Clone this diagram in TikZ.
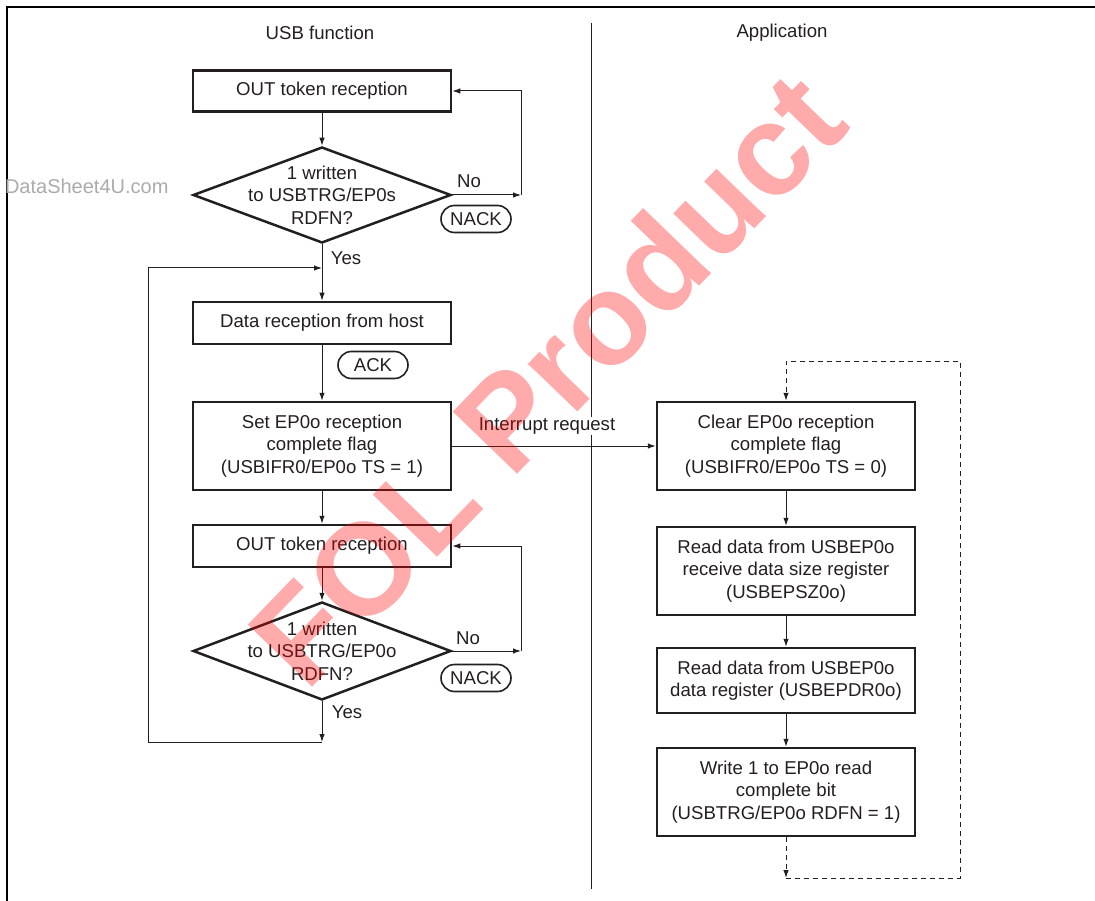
\documentclass[tikz,border=0pt]{standalone}
\usepackage{fontspec}
\setmainfont{Liberation Sans}
\usetikzlibrary{arrows.meta,shapes.geometric,shapes.misc}
\definecolor{ink}{HTML}{231F20}
\begin{document}
\begin{tikzpicture}[x=1pt,y=-1pt,
  every node/.style={font=\fontsize{18.6}{22.5}\selectfont, text=ink},
  box/.style={draw=ink, line width=2.5pt, minimum width=258pt, inner sep=0pt, align=center},
  dia/.style={draw=ink, line width=2.5pt, diamond, minimum width=258pt, inner sep=0pt},
  pill/.style={draw=ink, line width=1.6pt, rounded rectangle, minimum width=70pt, minimum height=27pt, inner sep=0pt},
  conn/.style={draw=ink, line width=1pt},
  arr/.style={conn, -{Latex[length=8pt,width=5.5pt]}},
  dashconn/.style={dash pattern=on 5pt off 4pt}
]
\useasboundingbox (0,0) rectangle (1095,901);
% frame
\draw[line width=2.6pt] (7,905) -- (7,7) -- (1100,7);
% watermark (gray)
\node[anchor=east, text=black!33, font=\fontsize{20}{20}\selectfont] (ds) at (172,186) {DataSheet4U.com};
% titles and divider
\node (t1) at (320,33) {USB function};
\node (t2) at (782,33) {Application};
\coordinate (dv1) at (591,23);
\coordinate (dv2) at (591,889);
\draw[conn] (dv1) -- (dv2);

% left column
\node[box, minimum height=41pt] (b1) at (322,91) {OUT token reception};
\node[dia, minimum height=96pt] (d1) at (322,195) {};
\node[align=center] (d1t) at (322,195) {1 written\\to USBTRG/EP0s\\RDFN?};
\node (no1) at (469,181) {No};
\node[pill] (nack1) at (476,219) {NACK};
\node (yes1) at (346,258) {Yes};
\node[box, minimum height=42pt] (b2) at (322,323) {Data reception from host};
\node[pill] (ack) at (373,365) {ACK};
\node[box, minimum height=88pt] (b3) at (322,446) {Set EP0o reception\\complete flag\\(USBIFR0/EP0o TS = 1)};
\node[box, minimum height=42pt] (b4) at (322,546) {OUT token reception};
\node[dia, minimum height=98pt] (d2) at (322,651) {};
\node[align=center] (d2t) at (322,651) {1 written\\to USBTRG/EP0o\\RDFN?};
\node (no2) at (468,638) {No};
\node[pill] (nack2) at (476,678) {NACK};
\node (yes2) at (347,712) {Yes};

% right column
\node[box, minimum height=88pt] (r1) at (786,446) {Clear EP0o reception\\complete flag\\(USBIFR0/EP0o TS = 0)};
\node[box, minimum height=88pt] (r2) at (786,571) {Read data from USBEP0o\\receive data size register\\(USBEPSZ0o)};
\node[box, minimum height=65pt] (r3) at (786,680.5) {Read data from USBEP0o\\data register (USBEPDR0o)};
\node[box, minimum height=88pt] (r4) at (786,792) {Write 1 to EP0o read\\complete bit\\(USBTRG/EP0o RDFN = 1)};

% connectors left
\coordinate (n1) at (521,195);
\coordinate (j1) at (322,268);
\coordinate (l1) at (322,742);
\coordinate (l2) at (148,742);
\coordinate (l3) at (148,268);
\coordinate (n2) at (521,651);
\draw[arr] (b1.south) -- (d1.north);
\draw[arr] (d1.east) -- (n1);
\draw[arr] (n1) |- (b1.east);
\draw[arr] (d1.south) -- (b2.north);
\draw[arr] (b2.south) -- (b3.north);
\draw[arr] (b3.south) -- (b4.north);
\draw[arr] (b4.south) -- (d2.north);
\draw[arr] (d2.east) -- (n2);
\draw[arr] (n2) |- (b4.east);
\draw[arr] (d2.south) -- (l1);
\draw[arr] (l1) -- (l2) -- (l3) -- (j1);
% interrupt request
\draw[arr] (b3.east) -- (r1.west);
\node[fill=white, inner sep=1pt] (irq) at (547,426) {Interrupt request};

% connectors right
\coordinate (q1) at (786,878);
\coordinate (q2) at (960,878);
\coordinate (q3) at (960,361);
\coordinate (q4) at (786,361);
\draw[arr] (r1.south) -- (r2.north);
\draw[arr] (r2.south) -- (r3.north);
\draw[arr] (r3.south) -- (r4.north);
\draw[arr, dashconn] (r4.south) -- (q1);
\draw[arr, dashconn] (q1) -- (q2) -- (q3) -- (q4) -- (r1.north);

% red watermark
\node[rotate=46, font=\fontsize{130}{130}\selectfont\bfseries, text=red, opacity=0.33] (wm) at (546,378) {FOL Product};
\end{tikzpicture}
\end{document}
